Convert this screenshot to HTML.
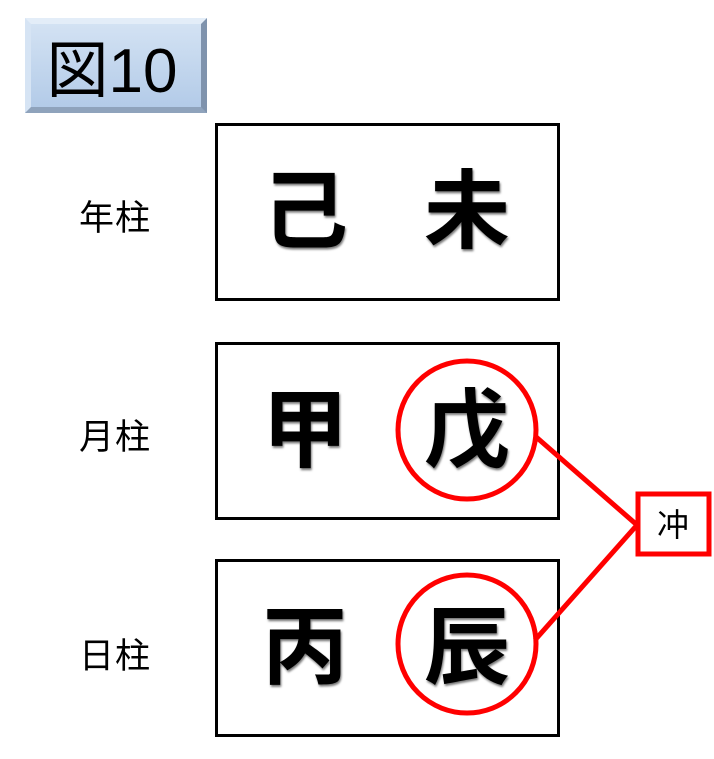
<!DOCTYPE html>
<html><head><meta charset="utf-8"><style>
body{margin:0;width:714px;height:759px;background:#fff;position:relative;overflow:hidden;font-family:"Liberation Sans","Noto Sans CJK JP",sans-serif}
.t{position:absolute;left:25px;top:18px;width:182px;height:95px;box-sizing:border-box;background:linear-gradient(#d3e2f3,#b3cbe8);border-top:6px solid #e3edf8;border-left:6px solid #d6e4f4;border-right:6px solid #7f93ad;border-bottom:6px solid #8fa3bc;font-size:62px;line-height:83px;text-align:center;color:#000;padding-right:8px}
.b{position:absolute;left:215px;width:345px;height:178px;box-sizing:border-box;border:3px solid #000}
.l{position:absolute;left:79px;font-size:35px;width:90px;letter-spacing:1px}
.c{position:absolute;font-size:86px;font-weight:bold;width:100px;text-align:center;line-height:100px;text-shadow:1px 2px 2px #777}
</style></head><body>
<div class="t"><span style="font-family:'Noto Sans CJK JP',sans-serif">図</span>10</div>
<div class="b" style="top:123px"></div>
<div class="b" style="top:342px"></div>
<div class="b" style="top:559px"></div>
<div class="l" style="top:190px">年柱</div>
<div class="l" style="top:409px">月柱</div>
<div class="l" style="top:628px">日柱</div>
<div class="c" style="left:255px;top:162px">己</div>
<div class="c" style="left:417px;top:162px">未</div>
<div class="c" style="left:255px;top:381px">甲</div>
<div class="c" style="left:417px;top:381px">戊</div>
<div class="c" style="left:255px;top:598px">丙</div>
<div class="c" style="left:417px;top:598px">辰</div>
<svg width="714" height="759" style="position:absolute;left:0;top:0">
<g fill="none" stroke="#f00" stroke-width="5">
<circle cx="467" cy="430" r="69"/>
<circle cx="467" cy="644" r="69"/>
<line x1="535" y1="436" x2="637" y2="525"/>
<line x1="535" y1="640" x2="637" y2="525"/>
<rect x="638" y="494" width="71" height="60" fill="#fff" stroke-width="5"/>
</g>
<text x="673" y="536" font-size="32" text-anchor="middle" font-family="Liberation Sans,Noto Sans CJK JP,sans-serif">冲</text>
</svg>
</body></html>
